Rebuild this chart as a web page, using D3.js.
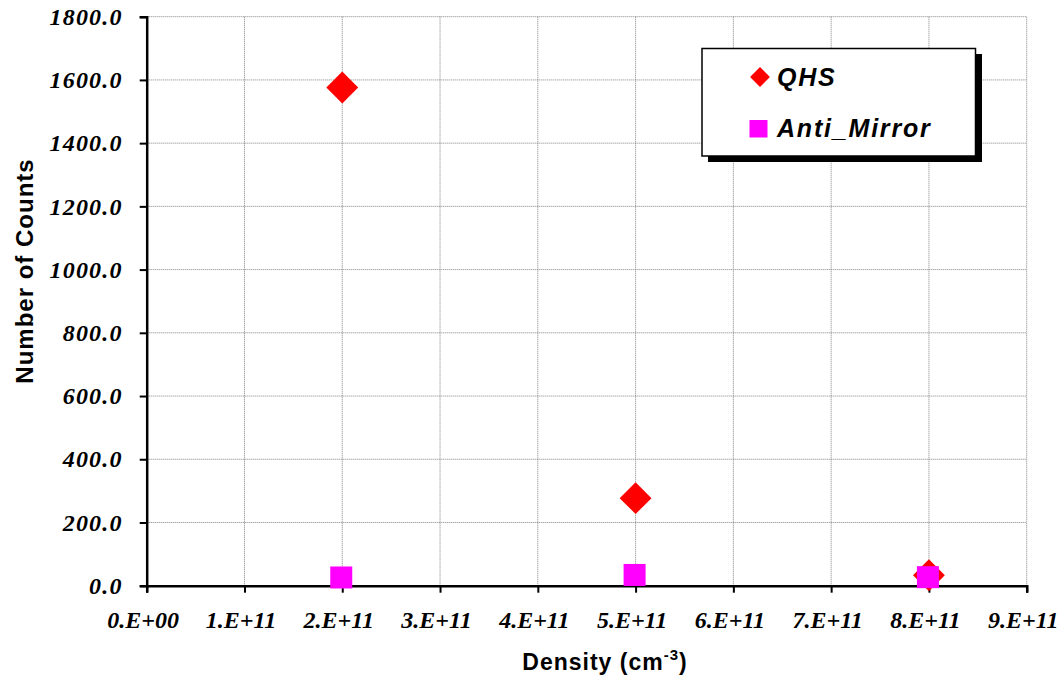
<!DOCTYPE html>
<html><head><meta charset="utf-8">
<script src="https://cdn.jsdelivr.net/npm/d3@7"></script>
<style>body{margin:0;background:#fff;}svg{display:block;}</style>
</head><body>
<svg id="chart" width="1062" height="681"></svg>
<script>
const xTicks = [0, 1e11, 2e11, 3e11, 4e11, 5e11, 6e11, 7e11, 8e11, 9e11];
const xTickLabels = ["0.E+00","1.E+11","2.E+11","3.E+11","4.E+11","5.E+11","6.E+11","7.E+11","8.E+11","9.E+11"];
const yTicks = [0, 200, 400, 600, 800, 1000, 1200, 1400, 1600, 1800];
const density = [2e11, 5e11, 8e11];
const qhs = [1576, 277, 33];
const antiMirror = [26, 34, 27];
const seriesNames = ["QHS", "Anti_Mirror"];

const svg = d3.select("#chart");
const m = {l: 146.7, r: 1026.7, t: 16.7, b: 585.7};
const x = d3.scaleLinear().domain([0, 9e11]).range([m.l, m.r]);
const y = d3.scaleLinear().domain([0, 1800]).range([m.b, m.t]);

// gridlines
const grid = svg.append("g");
grid.selectAll(".gx").data(xTicks.slice(1)).join("line")
  .attr("x1", d => x(d)).attr("x2", d => x(d)).attr("y1", m.t).attr("y2", m.b)
  .attr("stroke", "#808080").attr("stroke-width", 1).attr("stroke-dasharray", "1,1");
grid.selectAll(".gy").data(yTicks.slice(1)).join("line")
  .attr("x1", m.l).attr("x2", m.r).attr("y1", d => y(d)).attr("y2", d => y(d))
  .attr("stroke", "#808080").attr("stroke-width", 1).attr("stroke-dasharray", "1,1");

// axes
const xAxis = d3.axisBottom(x).tickValues(xTicks).tickFormat((d, i) => xTickLabels[i]).tickSizeOuter(0).tickSize(7).tickPadding(18);
const gx = svg.append("g").attr("transform", `translate(0,${m.b})`).call(xAxis);
gx.select(".domain").attr("stroke", "#000").attr("stroke-width", 2.5);
gx.selectAll(".tick line").attr("stroke", "#000").attr("stroke-width", 2);
gx.selectAll(".tick text").attr("font-family", "'Liberation Serif','Times New Roman',serif")
  .attr("font-weight", "bold").attr("font-style", "italic").attr("font-size", 24)
  .attr("fill", "#000").attr("dx", -4);

const yAxis = d3.axisLeft(y).tickValues(yTicks).tickFormat(d3.format(".1f")).tickSizeOuter(0).tickSize(7).tickPadding(17);
const gy = svg.append("g").attr("transform", `translate(${m.l},0)`).call(yAxis);
gy.select(".domain").attr("stroke", "#000").attr("stroke-width", 2.5);
gy.selectAll(".tick line").attr("stroke", "#000").attr("stroke-width", 2);
gy.selectAll(".tick text").attr("font-family", "'Liberation Serif','Times New Roman',serif")
  .attr("font-weight", "bold").attr("font-style", "italic").attr("font-size", 24)
  .attr("letter-spacing", "1.2px").attr("fill", "#000");

// axis titles
svg.append("text").attr("transform", "translate(33,271) rotate(-90)")
  .attr("text-anchor", "middle").attr("font-family", "'Liberation Sans',Arial,sans-serif")
  .attr("font-weight", "bold").attr("font-size", 24).attr("letter-spacing", "1px").text("Number of Counts");
const xt = svg.append("text").attr("x", 605).attr("y", 670)
  .attr("text-anchor", "middle").attr("font-family", "'Liberation Sans',Arial,sans-serif")
  .attr("font-weight", "bold").attr("font-size", 23).attr("letter-spacing", "1px");
xt.append("tspan").text("Density (cm");
xt.append("tspan").attr("dy", -10).attr("font-size", 15).text("-3");
xt.append("tspan").attr("dy", 10).text(")");

// data
const diamond = d3.symbol().type(d3.symbolSquare).size(22.5 * 22.5);
const pts = svg.append("g");
pts.selectAll(".q").data(density.map((d, i) => [d, qhs[i]])).join("path")
  .attr("d", diamond).attr("transform", d => `translate(${x(d[0])},${y(d[1])}) rotate(45)`)
  .attr("fill", "#ff0000");
pts.selectAll(".a").data(density.map((d, i) => [d, antiMirror[i]])).join("rect")
  .attr("x", d => x(d[0]) - 12).attr("y", d => y(d[1]) - 11)
  .attr("width", 22).attr("height", 22).attr("fill", "#ff00ff");

// legend
const lg = svg.append("g");
lg.append("rect").attr("x", 708).attr("y", 54).attr("width", 274).attr("height", 108).attr("fill", "#000");
lg.append("rect").attr("x", 702).attr("y", 48.5).attr("width", 273.5).attr("height", 107.5)
  .attr("fill", "#fff").attr("stroke", "#000").attr("stroke-width", 1.5);
lg.append("path").attr("d", d3.symbol().type(d3.symbolSquare).size(14 * 14))
  .attr("transform", "translate(760,77) rotate(45)").attr("fill", "#ff0000");
lg.append("rect").attr("x", 749.5).attr("y", 120).attr("width", 18).attr("height", 17.5).attr("fill", "#ff00ff");
lg.selectAll(".lt").data(seriesNames).join("text")
  .attr("x", 777).attr("y", (d, i) => 86 + i * 51)
  .attr("font-family", "'Liberation Sans',Arial,sans-serif").attr("font-weight", "bold")
  .attr("font-style", "italic").attr("font-size", 25).attr("letter-spacing", "1.8px").text(d => d);
</script>
</body></html>
